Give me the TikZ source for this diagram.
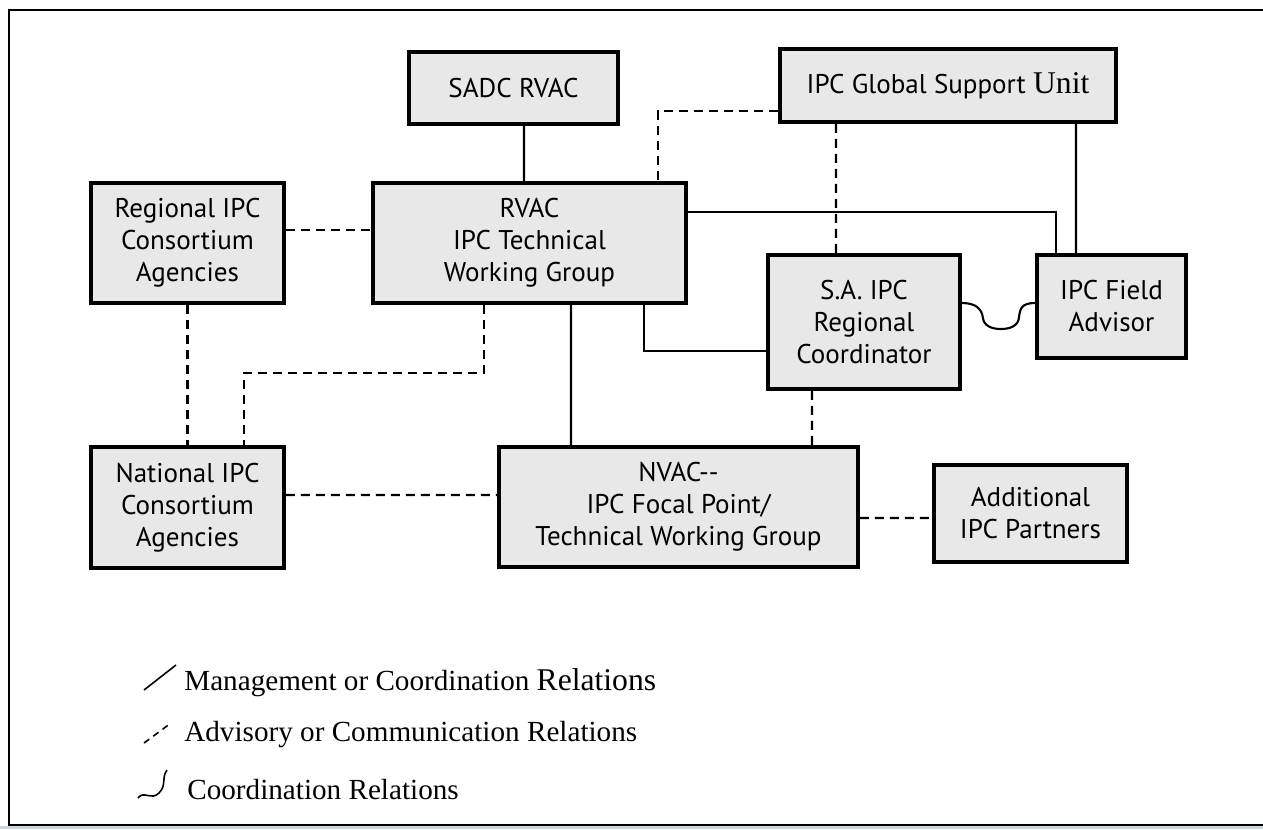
\documentclass[tikz,border=0pt]{standalone}
\usepackage{fontspec}
\usepackage{tikz}
\newfontfamily\ptsans{PT Sans}
\newfontfamily\timesfont{Liberation Serif}
\newcommand{\boxfont}{\ptsans\fontsize{15.4}{18.2}\selectfont}
\newcommand{\legfont}{\timesfont\fontsize{16.6}{20}\selectfont}
\newcommand{\serifbig}[1]{{\timesfont\fontsize{18}{18}\selectfont #1}}
\definecolor{boxgray}{RGB}{232,232,232}
\definecolor{gridblue}{RGB}{200,214,235}

\begin{document}
\begin{tikzpicture}[x=0.02cm, y=-0.02cm,
    unitbox/.style={draw, line width=2.2pt, fill=boxgray, align=center, inner sep=0pt, font=\boxfont},
    mgmt/.style={line width=1.2pt},
    advis/.style={line width=1.2pt, dash pattern=on 0.18cm off 0.12cm}]
  \useasboundingbox (0,0) rectangle (1263,829);
  \fill[gridblue] (0,826) rectangle (1263,829);
  \draw[line width=1.3pt] (9,10) rectangle (1290,825);

  \node[unitbox, minimum width=4.18cm, minimum height=1.44cm] (sadc) at (513.5,88) {SADC RVAC};
  \node[unitbox, minimum width=6.72cm, minimum height=1.46cm] (gsu) at (948,85.5) {IPC Global Support \serifbig{Unit}};
  \node[unitbox, minimum width=3.86cm, minimum height=2.4cm] (regcons) at (187.5,243) {Regional IPC\\Consortium\\Agencies};
  \node[unitbox, minimum width=6.26cm, minimum height=2.4cm] (rvac) at (529.5,243) {RVAC\\IPC Technical\\Working Group};
  \node[unitbox, minimum width=3.84cm, minimum height=2.68cm] (sacoord) at (864,322) {S.A. IPC\\Regional\\Coordinator};
  \node[unitbox, minimum width=2.98cm, minimum height=2.06cm] (field) at (1111.5,306.5) {IPC Field\\Advisor};
  \node[unitbox, minimum width=3.86cm, minimum height=2.42cm] (natcons) at (187.5,507.5) {National IPC\\Consortium\\Agencies};
  \node[unitbox, minimum width=7.18cm, minimum height=2.4cm] (nvac) at (678.5,507) {NVAC-{}-\\IPC Focal Point/\\Technical Working Group};
  \node[unitbox, minimum width=3.86cm, minimum height=1.94cm] (partners) at (1030.5,513.5) {Additional\\IPC Partners};

  \draw[mgmt] ([xshift=0.21cm]sadc.south) -- ([xshift=-0.11cm]rvac.north);
  \draw[mgmt] ([yshift=0.62cm]rvac.east) -| ([xshift=-1.11cm]field.north);
  \draw[mgmt] ([xshift=2.56cm]gsu.south) -- ([xshift=-0.71cm]field.north);
  \draw[mgmt] ([xshift=2.29cm]rvac.south) |- ([yshift=-0.58cm]sacoord.west);
  \draw[mgmt] ([xshift=0.83cm]rvac.south) -- ([xshift=-2.15cm]nvac.north);

  \draw[advis] ([yshift=0.26cm]regcons.east) -- ([yshift=0.26cm]rvac.west);
  \draw[advis] ([yshift=-0.51cm]gsu.west) -| ([xshift=2.57cm]rvac.north);
  \draw[advis] ([xshift=-2.24cm]gsu.south) -- ([xshift=-0.56cm]sacoord.north);
  \draw[advis] (regcons.south) -- (natcons.north);
  \draw[advis] ([xshift=-0.91cm]rvac.south) -- ++(0,68) -| ([xshift=1.13cm]natcons.north);
  \draw[advis] ([yshift=0.25cm]natcons.east) -- ([yshift=0.24cm]nvac.west);
  \draw[advis] ([xshift=-1.04cm]sacoord.south) -- ([xshift=2.67cm]nvac.north);
  \draw[advis] ([yshift=-0.22cm]nvac.east) -- ([yshift=-0.09cm]partners.west);

  \draw[mgmt] ([yshift=0.38cm]sacoord.east) .. controls +(14,0) and +(-1,-9) .. ++(21,15)
    .. controls +(1,8) and +(-9,0) .. ++(18,11)
    .. controls +(9,0) and +(-1,8) .. ++(18,-11)
    .. controls +(1,-9) and +(-14,0) .. ([yshift=0.07cm]field.west);

  \draw[line width=0.9pt] (144,690) -- (176,665);
  \draw[line width=0.9pt, dash pattern=on 0.13cm off 0.1cm] (144,743) -- (171,723);
  \draw[line width=0.9pt] (138,798) .. controls (144,790) and (151,801) .. (159,793)
    .. controls (167,785) and (161,778) .. (167,770);
  \node[anchor=west, inner sep=0pt, font=\legfont] (lmgmt) at (184,683) {Management or Coordination \serifbig{Relations}};
  \node[anchor=west, inner sep=0pt, font=\legfont] (ladvis) at (184,735) {Advisory or Communication Relations};
  \node[anchor=west, inner sep=0pt, font=\legfont] (lcoord) at (187,790) {Coordination Relations};
\end{tikzpicture}
\end{document}
